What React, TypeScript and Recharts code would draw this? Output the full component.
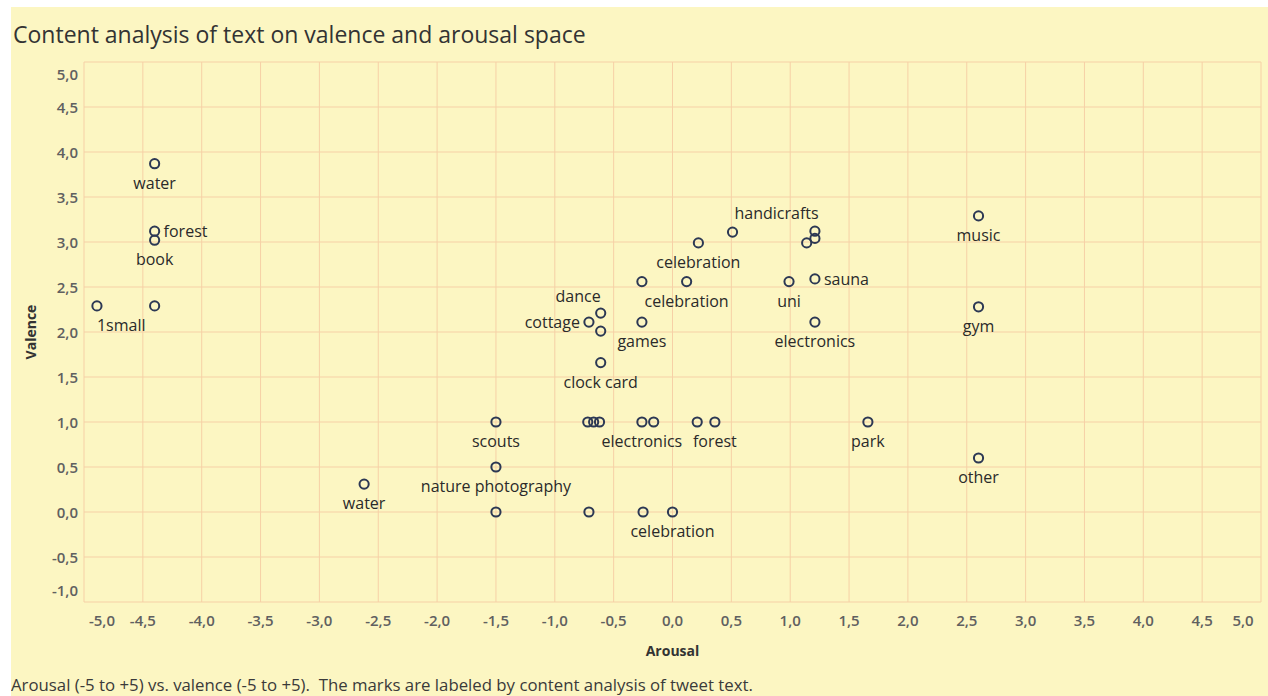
import React from 'react';
import { ScatterChart, Scatter, XAxis, YAxis, CartesianGrid, Label } from 'recharts';

// ---- data ----
const markLabels = [
  '1small', '', 'water', 'forest', 'book', 'water', 'scouts', 'nature photography',
  '', '', '', 'celebration', '', '', '', 'electronics', '', '', 'forest', 'park',
  'other', 'gym', 'music', 'handicrafts', '', '', '', 'celebration', '', 'celebration',
  'dance', 'cottage', '', 'games', 'clock card', 'uni', 'sauna', 'electronics',
];
const arousal = [
  -4.89, -4.4, -4.4, -4.4, -4.4, -2.62, -1.5, -1.5,
  -1.5, -0.71, -0.25, 0.0, -0.72, -0.67, -0.62, -0.26, -0.16, 0.21, 0.36, 1.66,
  2.6, 2.6, 2.6, 0.51, 1.21, 1.21, 1.14, 0.22, -0.26, 0.12,
  -0.61, -0.71, -0.61, -0.26, -0.61, 0.99, 1.21, 1.21,
];
const valence = [
  2.29, 2.29, 3.87, 3.12, 3.02, 0.31, 1.0, 0.5,
  0.0, 0.0, 0.0, 0.0, 1.0, 1.0, 1.0, 1.0, 1.0, 1.0, 1.0, 1.0,
  0.6, 2.28, 3.29, 3.11, 3.12, 3.04, 2.99, 2.99, 2.56, 2.56,
  2.21, 2.11, 2.01, 2.11, 1.66, 2.56, 2.59, 2.11,
];
const xTicks = [-5, -4.5, -4, -3.5, -3, -2.5, -2, -1.5, -1, -0.5, 0, 0.5, 1, 1.5, 2, 2.5, 3, 3.5, 4, 4.5, 5];
const yTicks = [-1, -0.5, 0, 0.5, 1, 1.5, 2, 2.5, 3, 3.5, 4, 4.5, 5];

// label placement (style only)
const placement = [
  'belowStart', 'below', 'below', 'right', 'below', 'below', 'below', 'below',
  'below', 'below', 'below', 'below', 'below', 'below', 'below', 'below', 'below', 'below', 'below', 'below',
  'below', 'below', 'below', 'aboveStart', 'below', 'below', 'below', 'below', 'below', 'below',
  'aboveEnd', 'left', 'below', 'below', 'below', 'below', 'right', 'below',
];

const points = markLabels.map((name, i) => ({ name, x: arousal[i], y: valence[i], place: placement[i] }));

const FONT = '"Open Sans", "Noto Sans", sans-serif';
const fmt = (v: number) => v.toFixed(1).replace('.', ',');

const Mark = (props: any) => {
  const { cx, cy, payload } = props;
  if (cx == null || cy == null) return null;
  const name = payload?.name;
  const place = payload?.place;
  let tx = cx, ty = cy + 19, anchor: any = 'middle';
  if (place === 'belowStart') { tx = cx; ty = cy + 19; anchor = 'start'; }
  else if (place === 'right') { tx = cx + 9; ty = cy; anchor = 'start'; }
  else if (place === 'left') { tx = cx - 9; ty = cy; anchor = 'end'; }
  else if (place === 'aboveStart') { tx = cx + 2; ty = cy - 19; anchor = 'start'; }
  else if (place === 'aboveEnd') { tx = cx; ty = cy - 17; anchor = 'end'; }
  return (
    <g>
      <circle cx={cx} cy={cy} r={4.6} fill="none" stroke="#2c3854" strokeWidth={2} />
      {name ? (
        <text x={tx} y={ty} textAnchor={anchor} dominantBaseline="central"
          fontFamily={FONT} fontSize={16} fill="#2a2a2a">{name}</text>
      ) : null}
    </g>
  );
};

const XTick = (props: any) => {
  const { x, y, payload } = props;
  const v = payload.value;
  const shift = v === -5 ? 18 : v === 5 ? -18 : 0;
  return (
    <text x={x + shift} y={y + 18} textAnchor="middle" dominantBaseline="central"
      fontFamily={FONT} fontSize={15} fontWeight={600} fill="#606060">{fmt(v)}</text>
  );
};

const YTick = (props: any) => {
  const { x, y, payload } = props;
  const v = payload.value;
  const shift = v === 5 ? 12 : v === -1 ? -12 : 0;
  return (
    <text x={x - 6} y={y + shift} textAnchor="end" dominantBaseline="central"
      fontFamily={FONT} fontSize={15} fontWeight={600} fill="#606060">{fmt(v)}</text>
  );
};

const YTitle = (props: any) => {
  const vb = props.viewBox || {};
  const cx = 19;
  const cy = (vb.y ?? 0) + (vb.height ?? 0) / 2;
  return (
    <text x={cx} y={cy} transform={`rotate(-90 ${cx} ${cy})`} textAnchor="middle" dominantBaseline="central"
      fontFamily={FONT} fontSize={14} fontWeight="bold" fill="#333">Valence</text>
  );
};

const XTitle = (props: any) => {
  const vb = props.viewBox || {};
  const cx = (vb.x ?? 0) + (vb.width ?? 0) / 2;
  const cy = (vb.y ?? 0) + 48;
  return (
    <text x={cx} y={cy} textAnchor="middle" dominantBaseline="central"
      fontFamily={FONT} fontSize={14} fontWeight="bold" fill="#333">Arousal</text>
  );
};

export default function App() {
  return (
    <div style={{ position: 'fixed', left: 11, top: 7, width: 1257, height: 689, background: '#FCF6C2', fontFamily: FONT, overflow: 'hidden' }}>
      <div style={{ position: 'absolute', left: 2, top: 12, fontSize: 23, lineHeight: '30px', color: '#333', whiteSpace: 'nowrap' }}>
        Content analysis of text on valence and arousal space
      </div>
      <div style={{ position: 'absolute', left: 0, top: 0 }}>
        <ScatterChart width={1257} height={660} margin={{ top: 55, right: 7, bottom: 0, left: 0 }}>
          <CartesianGrid stroke="#F6D0A6" strokeWidth={1} />
          <XAxis type="number" dataKey="x" domain={[-5, 5]} ticks={xTicks} interval={0}
            axisLine={false} tickLine={false} tickSize={0} tickMargin={0} height={65} tick={<XTick />}>
            <Label content={<XTitle />} />
          </XAxis>
          <YAxis type="number" dataKey="y" domain={[-1, 5]} ticks={yTicks} interval={0}
            axisLine={false} tickLine={false} tickSize={0} tickMargin={0} width={73} tick={<YTick />}>
            <Label content={<YTitle />} />
          </YAxis>
          <Scatter data={points} isAnimationActive={false} shape={<Mark />} />
        </ScatterChart>
      </div>
      <div style={{ position: 'absolute', left: 0, top: 668, fontSize: 16.8, lineHeight: '20px', color: '#3a3a3a', whiteSpace: 'pre' }}>
        Arousal (-5 to +5) vs. valence (-5 to +5).  The marks are labeled by content analysis of tweet text.
      </div>
    </div>
  );
}
